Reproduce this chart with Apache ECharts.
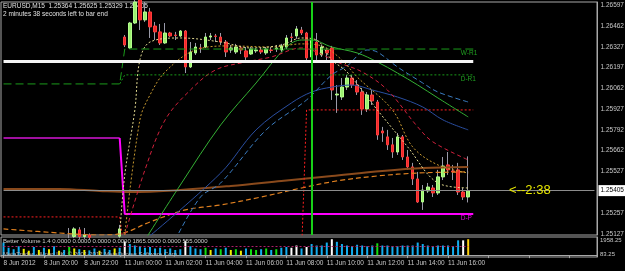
<!DOCTYPE html>
<html>
<head>
<meta charset="utf-8">
<script src="https://cdn.jsdelivr.net/npm/echarts@6/dist/echarts.min.js"></script>
<style>
  html, body { margin: 0; padding: 0; background: #000; }
  #chart { width: 625px; height: 271px; }
</style>
</head>
<body>
<div id="chart"></div>
<script>
// EURUSD M15, 8 Jun 2012 18:00 .. 11 Jun 2012 17:00 (93 bars)
const symbolName = 'EURUSD,M15'
const timerText = '2 minutes 38 seconds left to bar end'
const xTickLabels = [
  '8 Jun 2012', '8 Jun 20:00', '8 Jun 22:00', '11 Jun 00:00', '11 Jun 02:00', '11 Jun 04:00',
  '11 Jun 06:00', '11 Jun 08:00', '11 Jun 10:00', '11 Jun 12:00', '11 Jun 14:00', '11 Jun 16:00'
]
const priceTicks = [1.26597, 1.26462, 1.26327, 1.26197, 1.26062, 1.25927, 1.25792, 1.25662, 1.25527, 1.25257, 1.25127]
const volTicks = [1958.25, 83.25]

// [open, close, low, high]
const candles = [
  [1.25080, 1.25065, 1.25040, 1.25100], [1.25065, 1.25090, 1.25050, 1.25105],
  [1.25090, 1.25075, 1.25060, 1.25110], [1.25075, 1.25060, 1.25040, 1.25095],
  [1.25060, 1.25080, 1.25050, 1.25100], [1.25080, 1.25070, 1.25055, 1.25100],
  [1.25070, 1.25085, 1.25060, 1.25105], [1.25085, 1.25075, 1.25060, 1.25110],
  [1.25075, 1.25090, 1.25065, 1.25105], [1.25090, 1.25085, 1.25070, 1.25110],
  [1.25085, 1.25095, 1.25070, 1.25112], [1.25095, 1.25100, 1.25080, 1.25115],
  [1.25100, 1.25110, 1.25085, 1.25118], [1.25110, 1.25115, 1.25100, 1.25165],
  [1.25110, 1.25159, 1.25100, 1.25170], [1.25153, 1.25110, 1.25095, 1.25170],
  [1.25110, 1.25120, 1.25095, 1.25165], [1.25120, 1.25105, 1.25090, 1.25130],
  [1.25105, 1.25110, 1.25090, 1.25118], [1.25110, 1.25100, 1.25085, 1.25116],
  [1.25100, 1.25105, 1.25090, 1.25115], [1.25105, 1.25100, 1.25088, 1.25114],
  [1.25100, 1.25112, 1.25090, 1.25118], [1.25112, 1.25159, 1.25100, 1.25185],
  // Mon 11 Jun 00:00
  [1.26391, 1.26340, 1.26327, 1.26404], [1.26321, 1.26481, 1.26314, 1.26488],
  [1.26481, 1.26616, 1.26475, 1.26680], [1.26640, 1.26501, 1.26436, 1.26700],
  [1.26501, 1.26552, 1.26488, 1.26616], [1.26552, 1.26456, 1.26385, 1.26578],
  [1.26462, 1.26424, 1.26372, 1.26488], [1.26424, 1.26353, 1.26340, 1.26475],
  [1.26353, 1.26417, 1.26347, 1.26481], [1.26417, 1.26398, 1.26391, 1.26424],
  [1.26404, 1.26401, 1.26372, 1.26424], [1.26398, 1.26430, 1.26391, 1.26436],
  [1.26430, 1.26199, 1.26160, 1.26436], [1.26199, 1.26295, 1.26192, 1.26359],
  [1.26289, 1.26327, 1.26276, 1.26353], [1.26321, 1.26318, 1.26289, 1.26347],
  [1.26327, 1.26391, 1.26321, 1.26417], [1.26391, 1.26398, 1.26372, 1.26417],
  [1.26398, 1.26395, 1.26359, 1.26411], [1.26391, 1.26359, 1.26340, 1.26417],
  [1.26359, 1.26295, 1.26263, 1.26372], [1.26308, 1.26321, 1.26289, 1.26340],
  [1.26295, 1.26327, 1.26282, 1.26347], [1.26321, 1.26308, 1.26282, 1.26334],
  [1.26302, 1.26263, 1.26244, 1.26327], [1.26282, 1.26314, 1.26276, 1.26327],
  [1.26302, 1.26308, 1.26289, 1.26321], [1.26308, 1.26295, 1.26282, 1.26321],
  [1.26289, 1.26314, 1.26276, 1.26327], [1.26308, 1.26305, 1.26289, 1.26327],
  [1.26314, 1.26321, 1.26295, 1.26340], [1.26308, 1.26334, 1.26295, 1.26347],
  [1.26327, 1.26385, 1.26314, 1.26404], [1.26391, 1.26388, 1.26359, 1.26417],
  [1.26398, 1.26443, 1.26379, 1.26462], [1.26436, 1.26417, 1.26404, 1.26456],
  [1.26417, 1.26257, 1.26231, 1.26424], [1.26263, 1.26372, 1.26225, 1.26385],
  [1.26359, 1.26276, 1.26244, 1.26417], [1.26276, 1.26327, 1.26263, 1.26340],
  [1.26308, 1.26289, 1.26231, 1.26321], [1.26321, 1.26051, 1.25987, 1.26334],
  [1.26019, 1.26025, 1.25904, 1.26083], [1.26006, 1.26070, 1.25987, 1.26128],
  [1.26070, 1.26128, 1.26051, 1.26148], [1.26128, 1.26083, 1.26064, 1.26148],
  [1.26083, 1.26038, 1.26019, 1.26115], [1.26038, 1.25929, 1.25891, 1.26064],
  [1.25929, 1.26019, 1.25910, 1.26038], [1.26019, 1.25981, 1.25955, 1.26051],
  [1.25974, 1.25762, 1.25731, 1.25987], [1.25788, 1.25775, 1.25718, 1.25814],
  [1.25750, 1.25699, 1.25666, 1.25795], [1.25699, 1.25653, 1.25615, 1.25743],
  [1.25653, 1.25750, 1.25634, 1.25775], [1.25750, 1.25621, 1.25602, 1.25762],
  [1.25621, 1.25557, 1.25538, 1.25666], [1.25557, 1.25480, 1.25441, 1.25583],
  [1.25480, 1.25332, 1.25326, 1.25525], [1.25332, 1.25409, 1.25281, 1.25441],
  [1.25403, 1.25428, 1.25390, 1.25454], [1.25422, 1.25390, 1.25364, 1.25441],
  [1.25390, 1.25493, 1.25377, 1.25538], [1.25493, 1.25563, 1.25473, 1.25621],
  [1.25570, 1.25538, 1.25506, 1.25653], [1.25531, 1.25525, 1.25473, 1.25570],
  [1.25538, 1.25396, 1.25377, 1.25583], [1.25396, 1.25364, 1.25345, 1.25422],
  [1.25364, 1.25405, 1.25329, 1.25625]
]

// Better Volume
const volumes = [
  1700, 1000, 800, 1200, 850, 600, 1100, 700, 1000, 800, 1200, 600, 700, 1100, 900, 800,
  700, 650, 900, 600, 850, 700, 900, 1000,
  1850, 1500, 1300, 1200, 1000, 1100, 900, 1000, 800, 900, 700, 800, 1950, 1200, 900, 800,
  1000, 700, 900, 800, 1000, 700, 800, 600, 900, 800, 700, 800, 900, 700, 800, 1000,
  1100, 1000, 1300, 900, 1100, 1500, 1300, 1300, 1700, 2150, 1800, 1500, 1300, 1200, 1400, 1300,
  1200, 1300, 1600, 1300, 1300, 1200, 1200, 1300, 1300, 1300, 1700, 1500, 1300, 1200, 1300, 1300,
  1300, 1200, 2000, 2000, 2150
]
const volKinds = (
  'BBBBYYBYBYBYBGYBYBBYBBYB' +
  'WBBBBBBBBBBBWBBBGYBGBYGYBGGBGBGBBWWBWBBBBWBBBBBBBBGBBBBBBBBBBBBBBBBW'
).split('')
const volAverage = 1165

// indicator lines, [bar index, price]
const whiteLevel = [[0, 1.26234], [93, 1.26234]]
const wR1 = [[0, 1.26090], [23, 1.26090], [24, 1.26314], [93, 1.26314]]
const dR1 = [[23, 1.26090], [24, 1.26148], [93, 1.26148]]
const dPivotFri = [[0, 1.25743], [23, 1.25743]]
const dPivotMon = [[23, 1.25743], [24, 1.25255], [93, 1.25255]]
const redLevel = [[0, 1.25236], [23, 1.25236], [24, 1.25000], [59, 1.25000], [60, 1.25923], [93, 1.25923]]
const maPale = [[23, 1.25120], [24, 1.25505], [26, 1.25923], [27, 1.26244], [29, 1.26359], [35, 1.26385],
  [43, 1.26359], [49, 1.26321], [55, 1.26340], [59, 1.26385], [62, 1.26372], [65, 1.26244], [68, 1.26167],
  [74, 1.25923], [80, 1.25686], [86, 1.25454], [92, 1.25422]]
const maGold = [[24, 1.25120], [27, 1.25859], [29, 1.26019], [32, 1.26167], [38, 1.26308], [45, 1.26334],
  [53, 1.26327], [59, 1.26347], [63, 1.26334], [67, 1.26244], [70, 1.26135], [77, 1.25923], [81, 1.25686],
  [86, 1.25570], [92, 1.25518]]
const maCrimson = [[24, 1.25120], [28, 1.25538], [32, 1.25859], [37, 1.26051], [42, 1.26180], [48, 1.26231],
  [53, 1.26263], [59, 1.26321], [62, 1.26295], [66, 1.26231], [71, 1.26167], [76, 1.26051], [82, 1.25814],
  [85, 1.25718], [92, 1.25602]]
const maGreen = [[28, 1.25088], [35, 1.25441], [43, 1.25827], [50, 1.26096], [56, 1.26327], [59, 1.26372],
  [61, 1.26372], [65, 1.26327], [70, 1.26289], [74, 1.26231], [78, 1.26160], [82, 1.26083], [86, 1.26000],
  [92, 1.25878]]
const maBlueDash = [[34, 1.25088], [39, 1.25364], [43, 1.25454], [52, 1.25795], [60, 1.25987], [65, 1.26148],
  [68, 1.26205], [72, 1.26308], [74, 1.26295], [78, 1.26199], [83, 1.26096], [86, 1.26038], [92, 1.25974]]
const maNavy = [[28, 1.25088], [43, 1.25518], [50, 1.25795], [57, 1.25968], [61, 1.26038], [65, 1.26070],
  [69, 1.26083], [73, 1.26051], [78, 1.26006], [83, 1.25942], [87, 1.25859], [92, 1.25795]]
const maBrown = [[0, 1.25416], [11, 1.25416], [19, 1.25403], [25, 1.25396], [35, 1.25409], [45, 1.25435],
  [55, 1.25467], [65, 1.25499], [75, 1.25531], [83, 1.25550], [92, 1.25557]]
const maOrange = [[0, 1.25159], [11, 1.25133], [19, 1.25120], [23, 1.25127], [29, 1.25204], [36, 1.25281],
  [43, 1.25313], [51, 1.25364], [59, 1.25422], [66, 1.25467], [74, 1.25499], [82, 1.25518], [92, 1.25525]]

const bidPrice = 1.25405
const markerBar = 61
const countdown = '<--2:38'
const betterVolText = 'Better Volume 1.4 0.0000 0.0000 0.0000 0.0000 1865.0000 0.0000 555.0000'
const copyrightText = 'MetaTrader - Alpari UK, \u00a9 2001-2012 MetaQuotes Software Corp.'

const SLOTS = 118
const LAST_SLOT = SLOTS - 1
const FONT = 'Liberation Sans'
const cats = Array.from({ length: SLOTS }, (_, i) => 'b' + i)
const VOL_COLORS = { B: '#12aef0', Y: '#f0f000', G: '#10e010', W: '#ffffff' }

// bodies only (same bars, wicks cut to the body) so wicks can stay grey
const bodies = candles.map(c => [c[0], c[1], Math.min(c[0], c[1]), Math.max(c[0], c[1])])

function lineSeries(data, color, type, width, smooth, extra) {
  return Object.assign({
    type: 'line',
    data: data,
    xAxisIndex: 0,
    yAxisIndex: 0,
    symbol: 'none',
    smooth: smooth ? 0.35 : false,
    lineStyle: { color: color, type: type, width: width },
    silent: true,
    z: 3
  }, extra || {})
}

function endTag(text, coord, color) {
  return {
    symbol: 'rect',
    symbolSize: 1,
    itemStyle: { color: 'transparent' },
    silent: true,
    label: { show: true, formatter: text, position: [-12, 1], color: color, fontSize: 6.5, fontFamily: FONT },
    data: [{ coord: coord }]
  }
}

// horizontal level across the whole pane, label in the right-hand price column
function level(value, text, lineStyle, labelStyle) {
  return [
    { coord: [0, value], lineStyle: lineStyle, label: Object.assign({ show: true, position: 'end', formatter: text, fontFamily: FONT }, labelStyle) },
    { coord: [LAST_SLOT, value] }
  ]
}

const last = candles[candles.length - 1]
const header = `${symbolName}  ${last[0].toFixed(5)} ${last[3].toFixed(5)} ${last[2].toFixed(5)} ${last[1].toFixed(5)}`

const chart = echarts.init(document.getElementById('chart'))

chart.setOption({
  backgroundColor: '#000',
  animation: false,
  grid: [
    { left: 1, right: 28, top: 2, height: 233, show: true, borderColor: '#a8a8a8', borderWidth: 1 },
    { left: 1, right: 28, top: 237, height: 20, show: true, borderColor: '#a8a8a8', borderWidth: 1 }
  ],
  xAxis: [
    {
      type: 'category', gridIndex: 0, data: cats, boundaryGap: true,
      axisLine: { show: false }, axisTick: { show: false }, axisLabel: { show: false }, splitLine: { show: false }
    },
    {
      type: 'category', gridIndex: 1, data: cats, boundaryGap: true,
      axisLine: { lineStyle: { color: '#a8a8a8' } },
      axisTick: { show: true, interval: 7, alignWithLabel: true, length: 3, lineStyle: { color: '#a8a8a8' } },
      axisLabel: {
        interval: 7, align: 'left', margin: 3, color: '#c8c8c8', fontSize: 6.5, fontFamily: FONT,
        formatter: (v, idx) => xTickLabels[idx / 8] || ''
      },
      splitLine: { show: false }
    }
  ],
  yAxis: [
    {
      type: 'value', gridIndex: 0, position: 'right', min: 1.25120, max: 1.26616,
      axisLine: { show: true, lineStyle: { color: '#a8a8a8' } },
      axisTick: { show: false }, axisLabel: { show: false }, splitLine: { show: false }
    },
    {
      type: 'value', gridIndex: 1, position: 'right', min: -250, max: 2450,
      axisLine: { show: true, lineStyle: { color: '#a8a8a8' } },
      axisTick: { show: false }, axisLabel: { show: false }, splitLine: { show: false }
    }
  ],
  graphic: [
    { type: 'text', left: 3, top: 3, style: { text: header, fill: '#e0e0e0', fontSize: 6.5, fontFamily: FONT } },
    { type: 'text', left: 3, top: 11, style: { text: timerText, fill: '#e0e0e0', fontSize: 6.5, fontFamily: FONT } },
    { type: 'text', left: 3, top: 238, z: 10, style: { text: betterVolText, fill: '#d0d0d0', fontSize: 6, fontFamily: FONT } },
    { type: 'text', left: 3, top: 251, z: 10, style: { text: copyrightText, fill: '#b8b8b8', fontSize: 6, fontFamily: FONT } }
  ],
  series: [
    {
      type: 'candlestick',
      xAxisIndex: 0,
      yAxisIndex: 0,
      data: candles,
      barWidth: 1,
      z: 2,
      silent: true,
      itemStyle: { color: '#9a9aa8', color0: '#9a9aa8', borderColor: '#9a9aa8', borderColor0: '#9a9aa8', borderWidth: 1 }
    },
    {
      type: 'candlestick',
      xAxisIndex: 0,
      yAxisIndex: 0,
      data: bodies,
      barWidth: 3,
      z: 2,
      silent: true,
      itemStyle: { color: '#9cf070', color0: '#f02828', borderColor: '#b4ff8c', borderColor0: '#ff3c3c', borderWidth: 1 }
    },
    lineSeries(maOrange, '#e08020', [5, 3], 1.2, true),
    lineSeries(maBrown, '#8a4a1c', 'solid', 2, true),
    lineSeries(redLevel, '#ff2020', [2, 2], 1, false),
    lineSeries(dPivotFri, '#a010a0', 'solid', 2, false),
    lineSeries(dPivotMon, '#ff00ff', 'solid', 2, false, { markPoint: endTag('D-P', [93, 1.25255], '#e000e0') }),
    lineSeries(maNavy, '#2a4ea0', 'solid', 1, true),
    lineSeries(maBlueDash, '#3a7cc0', [5, 3], 1, true),
    lineSeries(maGreen, '#34b034', 'solid', 1, true),
    lineSeries(maCrimson, '#d0203c', [4, 3], 1, true),
    lineSeries(maGold, '#c89a30', [2, 2], 1, true),
    lineSeries(maPale, '#e0d890', [2, 2], 1, true),
    lineSeries(dR1, '#1a9a1a', [2, 2], 1, false, { markPoint: endTag('D-R1', [93, 1.26148], '#20a020') }),
    lineSeries(wR1, '#1a9a1a', [8, 4], 1, false, { markPoint: endTag('W-R1', [93, 1.26314], '#20a020') }),
    lineSeries(whiteLevel, '#f4f4f4', 'solid', 3, false, {
      markLine: {
        silent: true,
        symbol: ['none', 'none'],
        data: [
          level(bidPrice, bidPrice.toFixed(5), { color: '#8c8c8c', type: 'solid', width: 1 },
            { distance: 4, backgroundColor: '#fff', color: '#000', padding: [2, 2], fontSize: 6.5 }),
          {
            xAxis: markerBar,
            lineStyle: { color: '#18d018', type: 'solid', width: 2 },
            label: { show: false }
          }
        ].concat(priceTicks.map(v => level(v, v.toFixed(5), { color: 'transparent', width: 0 },
          { distance: 6, color: '#c8c8c8', fontSize: 6.5 })))
      },
      markPoint: {
        symbol: 'rect',
        symbolSize: 1,
        itemStyle: { color: 'transparent' },
        silent: true,
        label: { show: true, formatter: countdown, position: 'right', distance: 0, color: '#e6e600', fontSize: 13, fontFamily: FONT },
        data: [{ coord: [100, bidPrice] }]
      }
    }),
    {
      type: 'bar',
      xAxisIndex: 1,
      yAxisIndex: 1,
      barWidth: 2,
      silent: true,
      data: volumes.map((v, i) => ({ value: v, itemStyle: { color: VOL_COLORS[volKinds[i]] } })),
      markLine: {
        silent: true,
        symbol: ['none', 'none'],
        data: [
          [
            { coord: [0, volAverage], lineStyle: { color: '#b0206a', type: [2, 2], width: 1 }, label: { show: false } },
            { coord: [92, volAverage] }
          ]
        ].concat(volTicks.map(v => ({
          yAxis: v,
          lineStyle: { color: 'transparent', width: 0 },
          label: {
            show: true, position: 'end', distance: 3, formatter: String(v),
            color: '#c8c8c8', fontSize: 6, fontFamily: FONT
          }
        })))
      }
    }
  ]
})
</script>
</body>
</html>
